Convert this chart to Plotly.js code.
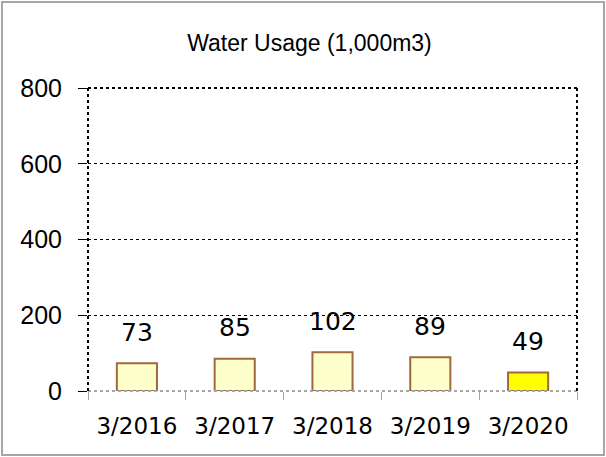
<!DOCTYPE html>
<html>
<head>
<meta charset="utf-8">
<script src="https://cdn.plot.ly/plotly-3.0.1.min.js"></script>
<style>
  html, body { margin: 0; padding: 0; background: #fff; }
  #wrap { position: relative; width: 606px; height: 457px; }
  #chart { width: 606px; height: 457px; }
  #frame { position: absolute; left: 1px; top: 1px; width: 600px; height: 451px; border: 2px solid #a6a6a6; pointer-events: none; }
</style>
</head>
<body>
<div id="wrap"><div id="chart"></div><div id="frame"></div></div>
<script>
const categories = ["3/2016", "3/2017", "3/2018", "3/2019", "3/2020"];
const waterUsage = [73, 85, 102, 89, 49];
const barColors = ["#FFFFCC", "#FFFFCC", "#FFFFCC", "#FFFFCC", "#FFFF00"];
const yTicks = [0, 200, 400, 600, 800];
const chartTitle = "Water Usage (1,000m3)";

const trace = {
  type: "bar",
  x: categories,
  y: waterUsage,
  width: 0.41,
  marker: { color: barColors, line: { color: "#A0693A", width: 2 } },
  hoverinfo: "x+y"
};

const annotations = categories.map((c, i) => ({
  x: c, y: waterUsage[i], xref: "x", yref: "y",
  text: String(waterUsage[i]), showarrow: false,
  yanchor: "middle", yshift: 31,
  font: { family: "DejaVu Sans, Verdana, sans-serif", size: 25, color: "#000" }
}));

const dotLine = (x0, y0, x1, y1, color, w) => ({
  type: "line", xref: "paper", yref: "paper", x0, y0, x1, y1,
  line: { color, width: w, dash: "dot" }, layer: "above"
});

const layout = {
  width: 606, height: 457,
  margin: { l: 88, r: 29, t: 88, b: 66, pad: 0 },
  paper_bgcolor: "#fff", plot_bgcolor: "#fff",
  showlegend: false,
  title: {
    text: chartTitle, x: 309.5 / 606, xanchor: "center", xref: "container",
    y: 1 - 43 / 457, yref: "container", yanchor: "middle",
    font: { family: "Liberation Sans, Arial, sans-serif", size: 23, color: "#000" }
  },
  xaxis: {
    type: "category",
    tickson: "boundaries", ticks: "outside", ticklen: 8, tickcolor: "#a6a6a6", tickwidth: 1,
    showgrid: false, zeroline: false, showline: false,
    tickfont: { family: "DejaVu Sans, Verdana, sans-serif", size: 23, color: "#000" },
    ticklabelstandoff: 19,
    range: [-0.5, 4.5]
  },
  yaxis: {
    range: [0, 800], tickvals: yTicks, ticktext: yTicks.map(String),
    ticks: "outside", ticklen: 9, tickcolor: "#000", tickwidth: 1,
    showgrid: true, gridcolor: "#000", gridwidth: 1, griddash: "dot",
    zeroline: false, showline: false,
    tickfont: { family: "Liberation Sans, Arial, sans-serif", size: 25, color: "#000" },
    ticklabelstandoff: 11
  },
  shapes: [
    dotLine(0, 0, 1, 0, "#a6a6a6", 2),
    dotLine(0, 0, 0, 1, "#000", 2),
    dotLine(0, 1, 1, 1, "#000", 2),
    dotLine(1, 0, 1, 1, "#000", 2)
  ],
  annotations: annotations
};

Plotly.newPlot("chart", [trace], layout, { displayModeBar: false, staticPlot: true });
</script>
</body>
</html>
